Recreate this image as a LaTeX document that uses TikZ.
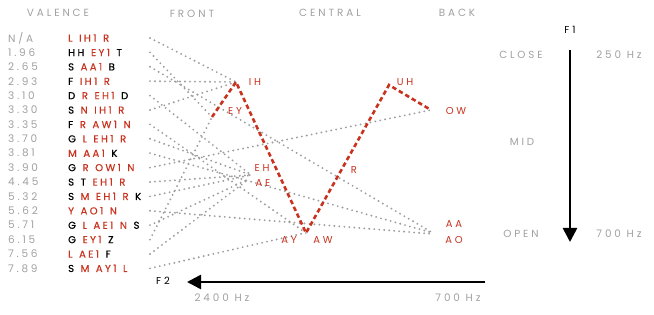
\documentclass[tikz,border=0pt]{standalone}
\usepackage{fontspec}
\setmainfont{Poppins}[LetterSpace=28]
\newfontfamily\wordfont{Poppins}[LetterSpace=24,WordSpace=1.3,FakeBold=0.5]
\newfontfamily\numfont{Poppins}[LetterSpace=26]
\usetikzlibrary{arrows.meta}
\definecolor{vred}{RGB}{200,50,30}
\definecolor{lgray}{RGB}{160,160,160}
\definecolor{dgray}{RGB}{158,158,158}
\newcommand{\rd}[1]{\textcolor{vred}{#1}}
\begin{document}
\begin{tikzpicture}[x=1pt,y=-1pt,
  hdr/.style={text=lgray, font=\fontsize{10.4}{12}\selectfont, inner sep=0pt},
  sub/.style={text=lgray, font=\fontsize{10.3}{12}\selectfont, inner sep=0pt},
  num/.style={anchor=west, text=lgray, font=\numfont\fontsize{10.5}{12}\selectfont, inner sep=0pt},
  word/.style={anchor=west, font=\wordfont\fontsize{10}{11}\selectfont, inner sep=0pt},
  vow/.style={text=vred, font=\fontsize{10}{12}\selectfont, inner sep=0pt},
  blk/.style={text=black, font=\fontsize{10}{12}\selectfont, inner sep=0pt},
  dotl/.style={draw=dgray, line width=2.1pt, line cap=round, dash pattern=on 0pt off 5pt},
  redl/.style={draw=vred, line width=2.6pt, dash pattern=on 4.5pt off 3pt},
  axisarrow/.style={line width=2.6pt, -{Triangle[length=14pt,width=14pt]}}]
\useasboundingbox (0,0) rectangle (654,315);
% headers
\node[hdr] (hval) at (58,12.5) {VALENCE};
\node[hdr] (hfr) at (192,13.5) {FRONT};
\node[hdr] (hce) at (330,12.5) {CENTRAL};
\node[hdr] (hba) at (457,12.5) {BACK};
% rows
\node[num] (n0) at (8,38) {N/A};    \node[word] (w0) at (68,38) {\rd{L IH1 R}};
\node[num] (n1) at (8,52.4) {1.96}; \node[word] (w1) at (68,52.4) {HH \rd{EY1} T};
\node[num] (n2) at (8,66.8) {2.65}; \node[word] (w2) at (68,66.8) {S \rd{AA1} B};
\node[num] (n3) at (8,81.2) {2.93}; \node[word] (w3) at (68,81.2) {F \rd{IH1 R}};
\node[num] (n4) at (8,95.6) {3.10}; \node[word] (w4) at (68,95.6) {D \rd{R EH1} D};
\node[num] (n5) at (8,110) {3.30};  \node[word] (w5) at (68,110) {S \rd{N IH1 R}};
\node[num] (n6) at (8,124.4) {3.35}; \node[word] (w6) at (68,124.4) {F \rd{R AW1 N}};
\node[num] (n7) at (8,138.8) {3.70}; \node[word] (w7) at (68,138.8) {G \rd{L EH1 R}};
\node[num] (n8) at (8,153.2) {3.81}; \node[word] (w8) at (68,153.2) {\rd{M AA1} K};
\node[num] (n9) at (8,167.6) {3.90}; \node[word] (w9) at (68,167.6) {G \rd{R OW1 N}};
\node[num] (n10) at (8,182) {4.45};  \node[word] (w10) at (68,182) {S T \rd{EH1 R}};
\node[num] (n11) at (8,196.4) {5.32}; \node[word] (w11) at (68,196.4) {S \rd{M EH1 R} K};
\node[num] (n12) at (8,210.8) {5.62}; \node[word] (w12) at (68,210.8) {\rd{Y AO1 N}};
\node[num] (n13) at (8,225.2) {5.71}; \node[word] (w13) at (68,225.2) {G \rd{L AE1 N} S};
\node[num] (n14) at (8,239.6) {6.15}; \node[word] (w14) at (68,239.6) {G \rd{EY1} Z};
\node[num] (n15) at (8,254) {7.56};   \node[word] (w15) at (68,254) {\rd{L AE1} F};
\node[num] (n16) at (8,268.4) {7.89}; \node[word] (w16) at (68,268.4) {S \rd{M AY1 L}};
% line starts
\foreach \i/\y in {0/38,1/52.4,2/66.8,3/81.2,4/95.6,5/110,6/124.4,7/138.8,8/153.2,9/167.6,10/182,11/196.4,12/210.8,13/225.2,14/239.6,15/254,16/268.4}
  \coordinate (s\i) at (150,\y);
% vowel points
\coordinate (IH) at (236,82);
\coordinate (EY) at (212,117);
\coordinate (EH) at (251,175);
\coordinate (AE) at (249,179);
\coordinate (AW) at (306,233);
\coordinate (AY) at (305,233);
\coordinate (UH) at (389,85);
\coordinate (OW) at (431,110);
\coordinate (AA) at (433,233);
\coordinate (AO) at (433,234);
% dotted connectors
\foreach \s/\v in {s0/IH,s1/EY,s2/AA,s3/IH,s4/EH,s5/IH,s6/AW,s7/EH,s8/AA,s9/OW,s10/EH,s11/EH,s12/AO,s13/AE,s14/EY,s15/AE,s16/AY}
  \draw[dotl] (\s) -- (\v);
% red trajectory
\draw[redl] (EY) -- (IH) -- (AW) -- (UH) -- (OW);
% vowel labels
\node[vow] (lIH) at (255,82) {IH};
\node[vow] (lEY) at (235,111) {EY};
\node[vow] (lEH) at (262,168) {EH};
\node[vow] (lAE) at (263,183) {AE};
\node[vow] (lAY) at (289,240) {AY};
\node[vow] (lAW) at (323,240) {AW};
\node[vow] (lR) at (354,170) {R};
\node[vow] (lUH) at (405,82) {UH};
\node[vow] (lOW) at (456,111) {OW};
\node[vow] (lAA) at (454,224) {AA};
\node[vow] (lAO) at (454,240) {AO};
% F1 axis
\node[blk] (f1) at (570,30) {F1};
\node[sub] (close) at (521,55) {CLOSE};
\node[hdr] (hz250) at (619,55) {250 Hz};
\node[sub] (mid) at (522,142) {MID};
\node[sub] (open) at (521,234) {OPEN};
\node[hdr] (hz700a) at (619,234) {700 Hz};
\coordinate (f1a) at (570,50);
\coordinate (f1b) at (570,242);
\draw[axisarrow] (f1a) -- (f1b);
% F2 axis
\node[blk] (f2) at (163,281) {F2};
\coordinate (f2a) at (485,282);
\coordinate (f2b) at (187,282);
\draw[axisarrow] (f2a) -- (f2b);
\node[hdr] (hz2400) at (222,298) {2400 Hz};
\node[hdr] (hz700b) at (458,298) {700 Hz};
\end{tikzpicture}
\end{document}
